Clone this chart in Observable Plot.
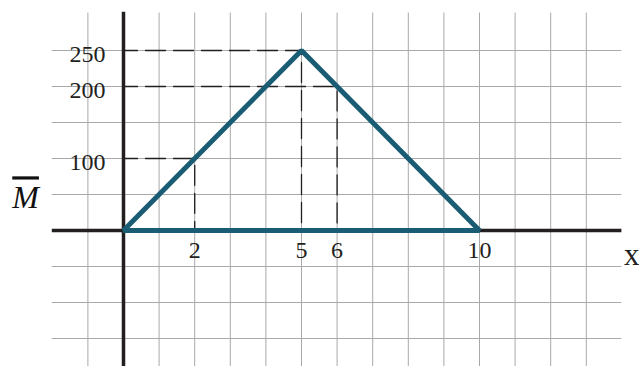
<!DOCTYPE html>
<html>
<head>
<meta charset="utf-8">
<script src="https://cdn.jsdelivr.net/npm/d3@7"></script>
<script src="https://cdn.jsdelivr.net/npm/@observablehq/plot@0.6"></script>
<style>
  html, body { margin: 0; padding: 0; background: #fff; }
</style>
</head>
<body>
<div id="chart"></div>
<script>
// Triangle (moment diagram) vertices
const triX = [0, 5, 10];
const triY = [0, 250, 0];
// Dashed guide points
const guideX = [2, 5, 6];
const guideY = [100, 250, 200];
// Tick labels
const xTicks = [2, 5, 6, 10];
const yTicks = [100, 200, 250];
// Grid lines
const gridX = [-1, 1, 2, 3, 4, 5, 6, 7, 8, 9, 10, 11, 12, 13];
const gridY = [-150, -100, -50, 50, 100, 150, 200, 250];
// Extents
const xExtent = [-2, 14];
const yExtent = [-190, 302];

const tri = triX.map((x, i) => ({x, y: triY[i]}));
const guides = guideX.flatMap((gx, i) => [
  {id: i, x: 0, y: guideY[i]},
  {id: i, x: gx, y: guideY[i]},
  {id: i, x: gx, y: 0}
]);

const ink = "#231f20";
const font = "'Liberation Serif', 'Times New Roman', serif";

const chart = Plot.plot({
  width: 639,
  height: 366,
  margin: 0,
  x: {domain: [0, 10], range: [123, 479], axis: null},
  y: {domain: [0, 250], range: [230, 50], axis: null},
  style: {fontFamily: font, background: "#fff"},
  marks: [
    Plot.ruleX(gridX, {x: d => d, y1: yExtent[0], y2: yExtent[1], stroke: "#a9a9a9", strokeWidth: 1}),
    Plot.ruleY(gridY, {y: d => d, x1: xExtent[0], x2: xExtent[1], stroke: "#a9a9a9", strokeWidth: 1}),
    Plot.ruleY([0], {x1: xExtent[0], x2: xExtent[1], stroke: ink, strokeWidth: 3.5}),
    Plot.ruleX([0], {y1: yExtent[0], y2: yExtent[1] + 1, stroke: ink, strokeWidth: 3.5}),
    Plot.line(guides, {x: "x", y: "y", z: "id", stroke: ink, strokeWidth: 1.3, strokeDasharray: "20,8", strokeDashoffset: 6}),
    Plot.line(tri, {x: "x", y: "y", curve: "linear-closed", stroke: "#195c74", strokeWidth: 5, strokeLinejoin: "miter"}),
    Plot.text(yTicks, {x: 0, y: d => d, text: d => String(d), textAnchor: "end", dx: -18, dy: 4, fontSize: 24, fill: ink}),
    Plot.text(xTicks, {x: d => d, y: 0, text: d => String(d), textAnchor: "middle", dy: 20, fontSize: 24, fill: ink}),
    Plot.text(["M"], {x: -2.75, y: 45, text: d => d, fontSize: 32, fontStyle: "italic", fill: "#111"}),
    Plot.text(["x"], {x: xExtent[1], y: 0, text: d => d, textAnchor: "start", dx: 2, dy: 25, fontSize: 31, fill: ink})
  ]
});
d3.select(chart).selectAll("text")
  .filter(function() { return this.textContent === "M"; })
  .style("text-decoration", "overline")
  .style("text-decoration-thickness", "1.5px");
document.getElementById("chart").appendChild(chart);
</script>
</body>
</html>
